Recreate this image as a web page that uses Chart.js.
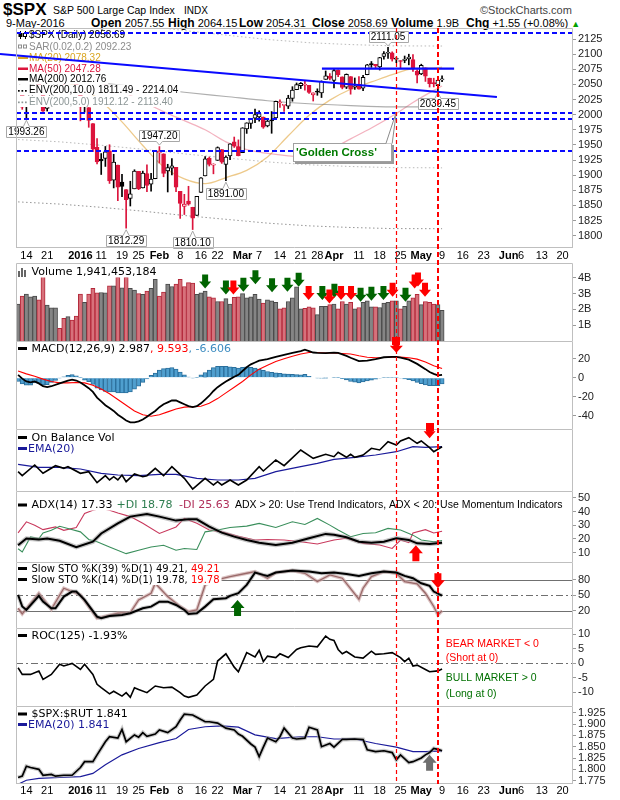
<!DOCTYPE html>
<html><head><meta charset="utf-8"><title>$SPX S&amp;P 500 Large Cap Index</title>
<script src="https://cdn.jsdelivr.net/npm/chart.js@4.4.1/dist/chart.umd.min.js"></script>
<style>
html,body{margin:0;padding:0;background:#fff}
#wrap{position:relative;width:620px;height:800px;overflow:hidden;background:#fff}
canvas{position:absolute;left:0}
.t{position:absolute;white-space:nowrap;line-height:1;color:#000;font-family:"Liberation Sans",Arial,sans-serif}
.t b{font-size:12px}
</style></head><body><div id="wrap">
<div class="t" style="left:3px;top:1px;font-size:17px;font-weight:bold">$SPX</div>
<div class="t" style="left:53px;top:5px;font-size:10.5px">S&amp;P 500 Large Cap Index</div>
<div class="t" style="left:184px;top:6px;font-size:10px">INDX</div>
<div class="t" style="left:480px;top:5px;font-size:11px;color:#444">&copy;StockCharts.com</div>
<div class="t" style="left:6px;top:18px;font-size:11px">9-May-2016</div>
<div class="t" style="left:91px;top:17px;font-size:11px"><b>Open</b> 2057.55</div>
<div class="t" style="left:168px;top:17px;font-size:11px"><b>High</b> 2064.15</div>
<div class="t" style="left:239px;top:17px;font-size:11px"><b>Low</b> 2054.31</div>
<div class="t" style="left:312px;top:17px;font-size:11px"><b>Close</b> 2058.69</div>
<div class="t" style="left:391px;top:17px;font-size:11px"><b>Volume</b> 1.9B</div>
<div class="t" style="left:466px;top:17px;font-size:11px"><b>Chg</b> +1.55 (+0.08%) <span style="color:#00a000;font-size:9px">&#9650;</span></div>
<canvas id="cPrice"></canvas>
<canvas id="cVol"></canvas>
<canvas id="cMacd"></canvas>
<canvas id="cObv"></canvas>
<canvas id="cAdx"></canvas>
<canvas id="cSto"></canvas>
<canvas id="cRoc"></canvas>
<canvas id="cRatio"></canvas>
<canvas id="ov" style="top:0;pointer-events:none"></canvas>
</div>
<script>
// ================= DATA =================
// trading days: index 0 = 10-Dec-2015 ... 102 = 9-May-2016 ; axis runs to index 133 (22-Jun-2016)
const tickIdx  = [2,7,15,20,25,29,34,39,44,48,54,58,63,68,72,76,82,87,92,97,102,107,112,118,121,126,131];
const tickText = ['14','21','2016','11','19','25','Feb','8','16','22','Mar','7','14','21','28','Apr','11','18','25','May','9','16','23','Jun','6','13','20'];

const opens = [2047.9,2047.3,2013.4,2025.6,2046.5,2073.8,2040.8,2010.3,2023.2,2042.2,
2063.5,2057.8,2060.5,2077.3,2060.6,2038.2,2013.8,2011.7,1985.3,1946.0,
1926.1,1927.8,1940.3,1891.7,1916.7,1888.7,1876.2,1861.5,1877.4,1906.3,
1878.8,1902.5,1885.2,1894.0,1936.9,1935.3,1907.1,1911.7,1913.1,1873.3,
1848.5,1857.1,1847.0,1833.4,1871.4,1898.8,1927.6,1916.7,1924.4,1942.4,
1917.6,1931.9,1955.0,1947.1,1937.1,1976.6,1985.6,1994.0,1996.1,1996.1,
1981.4,1991.0,1994.7,2019.3,2015.3,2014.2,2026.9,2041.2,2047.9,2048.6,
2048.6,2032.5,2037.9,2035.8,2058.3,2063.8,2056.6,2073.2,2062.5,2045.6,
2063.0,2045.5,2050.2,2043.7,2065.9,2082.9,2083.1,2078.8,2096.1,2101.5,
2102.1,2091.5,2089.4,2089.8,2092.3,2090.9,2071.8,2067.2,2077.2,2060.3,
2052.9,2047.8,2057.55];
const highs = [2067.7,2047.3,2022.9,2053.9,2076.7,2076.4,2040.8,2022.9,2042.7,2064.7,
2067.4,2057.8,2081.6,2077.3,2062.5,2038.2,2021.9,2011.7,1985.3,1960.4,
1935.7,1947.4,1950.3,1934.5,1916.7,1901.4,1876.2,1889.9,1908.9,1906.3,
1906.7,1917.0,1903.0,1940.2,1947.2,1935.3,1918.0,1927.4,1913.1,1873.3,
1868.3,1881.6,1847.0,1864.8,1895.8,1930.7,1930.0,1918.8,1946.7,1942.4,
1932.1,1951.8,1963.0,1958.3,1978.4,1986.5,1993.7,2009.1,2006.1,1996.1,
1992.7,2005.1,2022.4,2024.6,2015.9,2032.0,2046.2,2052.4,2053.1,2056.6,
2048.6,2036.0,2042.7,2055.9,2072.2,2067.9,2075.1,2074.0,2062.5,2067.3,
2063.0,2060.6,2062.9,2065.1,2083.2,2087.8,2083.2,2094.7,2104.4,2111.05,
2103.8,2095.0,2089.4,2096.9,2099.9,2099.3,2073.9,2083.4,2077.2,2060.3,
2060.2,2057.7,2064.15];
const lows = [2045.7,2008.8,1993.26,2025.6,2042.4,2041.7,2005.3,2005.9,2020.5,2042.2,
2058.7,2044.2,2060.5,2062.0,2043.6,1989.7,2004.2,1979.1,1938.8,1918.5,
1901.1,1914.4,1886.3,1878.9,1857.8,1864.6,1812.29,1849.0,1877.4,1876.0,
1878.8,1872.7,1873.7,1894.0,1920.0,1897.3,1872.2,1900.5,1872.7,1828.5,
1834.9,1850.3,1810.1,1833.4,1871.4,1898.8,1915.1,1902.2,1924.4,1919.4,
1891.0,1925.4,1945.8,1931.8,1937.1,1969.0,1977.4,1986.8,1989.4,1977.4,
1979.8,1969.2,1994.7,2012.1,2005.2,2010.0,2022.2,2041.2,2043.1,2040.6,
2034.9,2022.5,2032.0,2028.3,2058.3,2057.5,2044.0,2062.6,2042.6,2043.1,
2033.8,2041.7,2041.9,2039.7,2065.9,2078.1,2076.3,2073.7,2091.7,2093.1,
2088.5,2085.8,2077.5,2085.8,2082.3,2071.6,2052.3,2066.1,2054.9,2045.6,
2045.8,2039.45,2054.31];
const closes = [2052.2,2012.4,2021.9,2043.4,2073.1,2041.9,2005.6,2021.2,2039.0,2064.3,
2061.0,2056.5,2078.4,2063.4,2043.9,2012.7,2016.7,1990.3,1943.1,1922.0,
1923.7,1938.7,1890.3,1921.8,1880.3,1881.3,1859.3,1869.0,1906.9,1877.1,
1903.6,1883.0,1893.4,1940.2,1939.4,1903.0,1912.5,1915.5,1880.1,1853.4,
1852.2,1851.9,1829.1,1864.8,1895.6,1926.8,1917.83,1917.78,1945.5,1921.3,
1929.8,1951.7,1948.1,1932.2,1978.4,1986.5,1993.4,2000.0,2001.8,1979.3,
1989.3,1989.6,2022.2,2019.6,2015.9,2027.2,2040.6,2049.6,2051.6,2049.8,
2036.7,2035.9,2037.1,2055.0,2064.0,2059.7,2072.8,2066.1,2045.2,2066.7,
2041.9,2047.6,2042.0,2061.7,2082.4,2082.8,2080.7,2094.3,2100.8,2102.4,
2091.5,2091.6,2087.8,2091.7,2095.2,2075.8,2065.3,2081.4,2063.4,2051.1,
2050.6,2057.1,2058.69];
const prevClose0 = 2047.62;

const volumes = [2.34,2.85,2.97,2.80,2.85,2.60,4.13,2.28,2.10,2.10,
0.80,1.43,1.54,1.33,1.58,2.97,2.45,2.97,3.33,3.05,
3.07,3.05,3.50,3.50,4.05,3.37,4.05,3.33,3.22,3.00,
2.95,3.16,3.33,3.90,2.85,3.10,3.60,3.45,3.60,3.90,
3.45,3.70,3.67,2.95,3.05,3.16,2.80,2.73,2.50,2.50,
2.68,2.34,2.76,2.80,3.00,2.73,2.80,2.95,2.66,2.40,
2.60,2.55,2.45,2.03,2.10,2.50,2.73,3.43,2.03,2.07,
2.17,2.10,1.67,2.20,2.20,2.30,2.34,2.03,2.50,2.34,
2.45,2.03,2.12,2.45,2.55,2.17,2.17,2.12,2.40,2.45,
2.55,2.55,2.03,2.20,2.55,2.73,2.95,2.30,2.50,2.45,
2.34,2.30,1.94];

const ma20Pts = [[0,2073],[5,2063],[10,2055],[15,2045],[20,2022],[25,1988],[30,1949],[35,1914],[40,1894],[45,1886],[50,1896],[55,1908],[60,1930],[65,1965],[70,1999],[75,2024],[80,2042],[85,2054],[90,2066],[95,2076],[100,2077],[102,2078.32]];
const ma50Pts = [[0,2060],[10,2062],[20,2052],[30,2022],[35,2005],[40,1990],[45,1975],[50,1955],[55,1942],[60,1936],[65,1932],[70,1930],[75,1942],[80,1960],[85,1978],[91,2002],[95,2020],[100,2040],[102,2047.28]];
const ma200Pts = [[0,2062],[10,2058],[20,2052],[30,2045],[40,2037],[50,2030],[60,2023],[70,2018],[80,2015],[90,2013],[102,2012.76]];
const env10LoPts = [[0,1855.8],[10,1852.2],[20,1846.8],[30,1840.5],[40,1833.3],[50,1827],[60,1820.7],[70,1816.2],[80,1813.5],[90,1811.7],[102,1811.49]];
const env5LoPts = [[0,1958.9],[10,1955.1],[20,1949.4],[30,1942.8],[40,1935.2],[50,1928.5],[60,1921.9],[70,1917.1],[80,1914.3],[90,1912.4],[102,1912.12]];
const env5HiPts = [[0,2165.1],[10,2160.9],[20,2154.6],[30,2147.3],[40,2138.9],[50,2131.5],[60,2124.2],[70,2118.9],[80,2115.8],[90,2113.7],[102,2113.40]];

const macdPts = [[0,3],[1,-1],[2,-4],[3,-5],[4,-4],[5,-6],[6,-9],[7,-10],[8,-9],[10,-6],[12,-3],[13,-2],[14,-3],[15,-5],[16,-8],[17,-11],[18,-15],[19,-21],[20,-25],[21,-29],[22,-32],[23,-35],[24,-39],[25,-42],[26,-45],[27,-47],[28,-47],[29,-46],[30,-44],[31,-41],[32,-38],[33,-35],[34,-31],[35,-28],[36,-26],[37,-24],[38,-24],[39,-26],[40,-28],[41,-30],[42,-31],[43,-30],[44,-27],[45,-23],[46,-19],[47,-14],[48,-10],[49,-7],[50,-4],[51,-1.5],[52,1],[53,3],[54,7],[55,11],[56,14],[57,16],[58,18],[60,19.5],[62,22],[64,24],[66,26],[68,28],[69,29.5],[70,28],[71,26.5],[72,26],[74,25.8],[76,26.3],[77,26],[78,24.5],[79,23],[80,21],[82,17.5],[84,18],[86,19.5],[88,21.5],[90,22],[91,22],[92,21],[94,19],[96,14.5],[98,9],[99,6],[100,4],[101,2.5],[102,2.987]];
const signalPts = [[0,7],[2,4],[4,1.5],[6,-1.5],[8,-4],[10,-5.5],[12,-5.5],[14,-5],[16,-5.5],[18,-8],[20,-12],[22,-17],[24,-23],[26,-29],[28,-35],[30,-39],[32,-40.5],[34,-39],[36,-36],[38,-33],[40,-31],[42,-30.5],[44,-30],[46,-27],[48,-22],[50,-16],[52,-10],[54,-4],[56,3],[58,9],[60,13],[62,17],[64,20],[66,22.5],[68,25],[70,26.5],[72,26.5],[74,26],[76,26],[78,25.5],[80,25],[82,23],[84,21.5],[86,21],[88,21.2],[90,21.6],[92,21.6],[94,21],[96,19.5],[98,16.5],[100,12.5],[102,9.593]];
const macdHist = [-4,-6.5,-8,-7.75,-5.5,-6,-7.5,-7.25,-5,-2.75,
-0.5,1,2.5,3.25,2,0.25,-2.5,-4.25,-7,-11,
-13,-14.5,-15,-15,-16,-16,-16,-15,-12,-9,
-5,-1.25,2.5,4.75,8,9.5,10,10.5,9,6,
3,0.75,-0.5,0.25,3,5.5,8,10.5,12,12,
12,11.5,11,10,11,11.5,11,10,9,7.75,
6.5,5.75,5,4.5,4,3.75,3.5,3.25,3,3.5,
1.5,0,-0.5,-0.35,-0.2,0,0.3,0.25,-1,-2.25,
-4,-4.75,-5.5,-4.5,-3.5,-2.5,-1.5,-0.6,0.3,0.35,
0.4,0.4,-0.6,-1.3,-2,-3.5,-5,-6.25,-7.5,-8.5,
-8.5,-8.5,-6.606];

const obvPts = [[0,19.3],[1,15.3],[4,26],[6,17.7],[9,25.3],[11,22.7],[12,24.3],[15,17.7],[17,19.3],[19,8.3],[21,15.3],[22,11],[23,14.3],[24,11],[25,16],[26,9.3],[28,17],[30,14.3],[31,15.3],[33,22.7],[35,15.3],[37,24.3],[40,12.7],[42,2],[45,12.7],[47,6],[48,9.3],[49,6],[51,11],[53,6],[55,11],[58,24.3],[59,20],[62,31],[64,25.3],[68,41],[71,32.7],[74,36.7],[76,34.3],[77,38.7],[79,33.7],[80,36.7],[81,33.7],[83,36],[85,42.7],[87,41],[89,49.3],[91,46],[92,50],[94,53.3],[96,47.7],[97,50],[99,43.3],[100,39.3],[102,44.3]];
const obvEmaPts = [[0,26.7],[5,23.7],[10,23.7],[15,22],[20,17.7],[24,16],[29,15.3],[34,16.7],[38,16.7],[43,12.7],[48,11],[53,11],[57,12.7],[62,19.3],[68,24.3],[72,27.7],[76,31.7],[81,33.7],[86,36],[91,39.3],[95,44.3],[98,43.7],[102,44.3]];

const adxPts = [[0,15.4],[2,20.3],[5,19.6],[7,20.3],[10,18.7],[14,14],[18,18],[20,24],[24,31.4],[27,36.3],[31,38.2],[34,36.3],[38,33.4],[41,34.3],[43,34.3],[46,29],[49,24.6],[52,21.7],[55,19.2],[58,17.3],[62,15.6],[66,17.3],[70,20.5],[74,23.7],[76,23],[79,21.2],[82,18],[85,17.3],[88,18],[91,20.5],[94,19.3],[96,16.8],[99,16.4],[102,17.33]];
const pdiPts = [[0,12.9],[1,10.5],[3,21.5],[5,20.3],[6,24.4],[8,26.3],[10,29.3],[12,27.6],[15,25.2],[17,19.6],[19,18],[22,14.2],[26,9.3],[29,11.8],[32,14.2],[35,15.4],[38,11.8],[40,13],[43,12.3],[45,25.2],[48,26.5],[51,28.4],[55,29.4],[58,31.4],[62,28.4],[66,32.6],[69,30.6],[72,35],[75,30.1],[77,26.5],[80,21.6],[83,24],[86,24.5],[89,27.7],[92,26.5],[95,22.8],[97,19.2],[100,18],[102,18.78]];
const mdiPts = [[0,24.4],[2,32.5],[4,30],[6,26.8],[9,28.8],[11,26.3],[14,28.3],[16,38.6],[18,41],[20,42.3],[22,41],[24,39],[27,36.3],[30,31.4],[34,24],[38,28.8],[40,35],[43,31.4],[46,26.5],[49,25.2],[53,22],[57,19.2],[60,19.6],[64,19.2],[68,18],[72,16.3],[76,19.2],[79,20.5],[83,16.8],[87,15.6],[90,13.1],[92,19.2],[94,17.3],[95,24.4],[98,26.8],[100,24.4],[102,25.63]];

const sto39Pts = [[0,50.6],[1,28],[2,21.3],[5,48.7],[6,37.5],[8,24.6],[9,24.6],[11,47.4],[13,57.2],[14,57.2],[16,40.9],[19,8.2],[20,5],[22,9.5],[25,11.5],[27,14.8],[30,24.6],[32,27.8],[34,37.5],[36,37.5],[38,31],[40,21.3],[41,13.5],[43,14.8],[45,27.8],[47,42.2],[50,44.2],[51,48.7],[53,54],[55,70.2],[57,94.3],[59,89.8],[60,87.8],[62,94.3],[66,98.2],[70,96.3],[73,93.1],[76,94.3],[79,91.7],[82,87.8],[85,93.1],[88,96.3],[91,94.3],[93,87.8],[95,83.3],[97,73.5],[99,68.3],[100,57.2],[102,49.21]];
const sto14Pts = [[0,24.6],[1,13.5],[5,54],[8,22.6],[11,63.7],[15,50.6],[19,5],[24,14.8],[27,16],[29,40.9],[32,54],[33,73.5],[36,47.4],[39,27.8],[41,18],[43,21.3],[45,70.2],[47,78.7],[51,86.5],[55,93],[57,96.3],[60,83.3],[62,94.3],[66,98.2],[69,93],[72,76.8],[75,89.8],[78,83.3],[82,42.2],[83,63.7],[85,86.5],[88,96.3],[91,93],[93,76.8],[96,72.2],[98,54],[100,28],[101,11.5],[102,19.78]];

const rocPts = [[0,-1.5],[1,-3.8],[3,-3.8],[5,-2.6],[6,-5.5],[8,-3.8],[10,-0.3],[11,-0.9],[13,0],[15,-2.1],[16,-0.3],[18,-3.8],[19,-7.2],[20,-8.4],[22,-10.5],[23,-9.6],[25,-11.3],[26,-10.1],[27,-11.7],[28,-8.4],[29,-9],[31,-10.1],[33,-7.8],[35,-8.4],[37,-8.2],[39,-10.1],[40,-11.3],[41,-11.7],[43,-10.9],[45,-7.8],[47,-5.5],[48,0.8],[50,3.3],[52,-1.3],[53,-2.9],[55,3.7],[57,2.2],[58,4.5],[59,0.6],[60,2.5],[62,2],[63,3.3],[65,2],[67,4.8],[68,5.4],[70,6],[72,5.7],[74,9.4],[75,8.3],[76,7.9],[77,4.8],[78,3.3],[79,4.1],[81,2.2],[83,1.8],[85,4.2],[86,3.1],[88,3.3],[90,3.7],[92,2],[93,0.6],[94,1.8],[95,-0.9],[96,-0.6],[98,-2.1],[99,-2.9],[101,-2.6],[102,-1.93]];

const ratioPts = [[0,1.782],[1,1.785],[2,1.807],[3,1.804],[5,1.800],[6,1.787],[8,1.789],[9,1.785],[11,1.787],[13,1.787],[15,1.804],[16,1.817],[18,1.817],[19,1.832],[21,1.861],[22,1.872],[24,1.869],[25,1.888],[26,1.861],[28,1.876],[29,1.871],[30,1.881],[31,1.873],[33,1.878],[34,1.887],[36,1.881],[38,1.894],[39,1.909],[40,1.922],[42,1.920],[43,1.915],[45,1.905],[46,1.905],[48,1.902],[50,1.891],[52,1.887],[53,1.878],[54,1.873],[56,1.856],[57,1.849],[58,1.828],[59,1.849],[60,1.869],[62,1.861],[63,1.872],[64,1.891],[66,1.869],[67,1.867],[69,1.869],[70,1.893],[72,1.887],[73,1.850],[75,1.857],[76,1.849],[78,1.866],[79,1.866],[81,1.867],[83,1.866],[84,1.843],[86,1.839],[88,1.841],[90,1.837],[91,1.821],[92,1.832],[94,1.815],[95,1.817],[97,1.825],[98,1.832],[99,1.837],[100,1.846],[101,1.844],[102,1.841]];
const ratioEmaPts = [[0,1.767],[2,1.776],[5,1.780],[10,1.782],[15,1.784],[18,1.791],[21,1.810],[25,1.832],[29,1.846],[34,1.859],[38,1.868],[41,1.888],[45,1.894],[49,1.896],[53,1.893],[57,1.876],[62,1.868],[68,1.872],[72,1.872],[76,1.867],[81,1.867],[86,1.857],[91,1.849],[95,1.839],[98,1.839],[102,1.841]];

// axis tick values
const priceTicks = [1800,1825,1850,1875,1900,1925,1950,1975,2000,2025,2050,2075,2100,2125];
const volTicks = [1,2,3,4];
const macdTicks = [-40,-20,0,20];
const adxTicks = [10,20,30,40,50];
const stoTicks = [20,50,80];
const rocTicks = [-10,-5,0,5,10];
const ratioTicks = [1.775,1.800,1.825,1.850,1.875,1.900,1.925];

// annotations (data coordinates)
const hDashLevels = [2134.72,2002,1993.26,1940];
const trendLine = [[-4.35,2100.2],[115.2,2029.2]];
const resistLine = [[73.1,2075.9],[104.9,2075.9]];
const priceNotes = [[2,1993.26,'below'],[34,1947.20,'above'],[26,1812.29,'below'],[42,1810.10,'below'],[50,1891.00,'below'],[89,2111.05,'above'],[101,2039.45,'below']];
const gcBox = [66.2,90,1953,1921.6];
const gcTip = [91,2004.4];
const gcBase = [88.5,90];
const vLines = [91,101];
const volArrowsGreen = [[45,3.33],[50,2.95],[54.2,3.12],[57.1,3.59],[61.1,3.08],[64.8,3.12],[67.5,3.44],[73.2,2.6],[76.1,2.74],[82.4,2.49],[85,2.55],[87.9,2.6],[93.2,2.49]];
const volArrowsRed = [[51.8,2.95],[69.9,2.6],[74.9,2.38],[77.7,2.6],[80.1,2.6],[90.1,2.8],[95.4,3.33],[96.2,3.45],[97.9,2.8]];
const macdArrow = [91,26.3];
const obvArrow = [99,52.7];
const adxArrow = [95.7,15.4];
const stoArrowUp = [52.8,40.9];
const stoArrowDown = [101,63.8];
const ratioArrow = [99,1.832];
const rocNotes = [['BEAR MARKET < 0',6.5],['(Short at 0)',1.7],['BULL MARKET > 0',-5.2],['(Long at 0)',-10.7]];

// ================= STYLE / HELPERS =================
const FAM = '"Liberation Sans", Arial, sans-serif';
const F_PL = '10px ' + FAM;
const F_IL = '11px "DejaVu Sans", Verdana, sans-serif';
const F_STO = '10px "DejaVu Sans", Verdana, sans-serif';
const F_AR = '10.5px ' + FAM;
const RED = '#dc143c';
const P = a => a.map(([x,y]) => ({x,y}));
const L = (pts,color,w,extra) => Object.assign({type:'line',data:P(pts),borderColor:color,borderWidth:w,pointRadius:0,tension:0,fill:false,order:1},extra||{});

const candleCol = closes.map((c,i)=> c < (i ? closes[i-1] : prevClose0) ? RED : '#000');
const bodyFill = closes.map((c,i)=> c < opens[i] ? candleCol[i] : '#fff');
const volUp = closes.map((c,i)=> !(c < (i ? closes[i-1] : prevClose0)));

function xScale(show,h,pad){
  return {type:'linear',min:-0.5,max:133.5,offset:false,bounds:'data',display:show,
    grid:{display:false,drawTicks:false},border:{display:false},
    ticks:{autoSkip:false,maxRotation:0,minRotation:0,padding:pad,color:'#000',
      font:(c)=>({family:FAM,size:11,weight:/^[A-Z]|2016/.test(tickText[c.index]||'')?'bold':'normal'}),
      callback:(v,i)=>tickText[i]},
    afterBuildTicks:(s)=>{s.ticks=tickIdx.map(v=>({value:v}));},
    afterFit:(s)=>{s.height=h;s.paddingLeft=0;s.paddingRight=0;}};
}
function yScale(min,max,ticks,fmt){
  return {type:'linear',position:'right',min,max,bounds:'data',
    grid:{display:ticks.length>0,drawOnChartArea:false,drawTicks:true,tickLength:3,color:'#9a9a9a'},
    border:{display:false},
    ticks:{display:ticks.length>0,autoSkip:false,padding:2,color:'#222',font:{family:FAM,size:11},callback:(v)=>fmt(v)},
    afterBuildTicks:(s)=>{s.ticks=ticks.map(v=>({value:v}));},
    afterFit:(s)=>{s.width=47;s.paddingTop=0;s.paddingBottom=0;}};
}
const px=(ch,i)=>ch.scales.x.getPixelForValue(i);
const py=(ch,v)=>ch.scales.y.getPixelForValue(v);

function drawBorder(ch,ctx,bottom){
  const a=ch.chartArea;ctx.save();ctx.strokeStyle='#bfbfbf';ctx.lineWidth=1;ctx.setLineDash([]);
  ctx.beginPath();ctx.moveTo(a.left+0.5,a.bottom);ctx.lineTo(a.left+0.5,a.top+0.5);ctx.lineTo(a.right-0.5,a.top+0.5);ctx.lineTo(a.right-0.5,a.bottom);
  if(bottom){ctx.moveTo(a.left,a.bottom-0.5);ctx.lineTo(a.right,a.bottom-0.5);}
  ctx.stroke();ctx.restore();
}
function drawSwatch(ctx,sw,y){
  if(!sw)return;
  const [k,c]=sw;
  if(k==='bar'){ctx.fillStyle=c;ctx.fillRect(18,y-1.5,9,3);}
  else if(k==='line'){ctx.fillStyle=c;ctx.fillRect(18,y-1,10,2.5);}
  else if(k==='dots'){ctx.fillStyle=c;for(let j=0;j<3;j++)ctx.fillRect(18+j*3.5,y,1.7,1.7);}
  else if(k==='candle'){ctx.fillStyle='#000';ctx.fillRect(20,y-4,1,8);ctx.fillRect(18.5,y-2,4,4);ctx.fillRect(25,y-4,1,8);ctx.fillStyle='#fff';ctx.fillRect(24,y-1,3,3);ctx.strokeStyle='#000';ctx.lineWidth=1;ctx.strokeRect(23.5,y-1.5,3,3);}
  else if(k==='sar'){ctx.strokeStyle=c;ctx.lineWidth=1;ctx.strokeRect(18.5,y-1.5,3,3);ctx.strokeRect(23.5,y-1.5,3,3);}
  else if(k==='vol'){ctx.fillStyle='#666';ctx.fillRect(18,y-1,2,6);ctx.fillRect(21,y-4,2,9);ctx.fillRect(24,y-2,2,7);}
}
function drawLegend(ctx,rows,top,defFont,defX){
  rows.forEach(r=>{
    const y=r.y-top;let x=r.x!=null?r.x:defX;let end=x;
    r.parts.forEach(p=>{ctx.font=p.f||defFont;if(p.x!=null)end=p.x;end+=ctx.measureText(p.t).width;});
    ctx.fillStyle='#fff';ctx.fillRect(17,y-5.5,end-17+2,11);
    drawSwatch(ctx,r.sw,y);
    ctx.textBaseline='middle';ctx.textAlign='left';
    r.parts.forEach(p=>{ctx.font=p.f||defFont;if(p.x!=null)x=p.x;ctx.fillStyle=p.c;ctx.fillText(p.t,x,y+0.5);x+=ctx.measureText(p.t).width;});
  });
}
function arrow(ctx,x,yTip,dir,color,s){
  const [hw,hh,sw,sh]=s||[6,7,2.8,7];const d=dir==='down'?-1:1;
  ctx.beginPath();ctx.moveTo(x,yTip);ctx.lineTo(x-hw,yTip+d*hh);ctx.lineTo(x-sw,yTip+d*hh);ctx.lineTo(x-sw,yTip+d*(hh+sh));
  ctx.lineTo(x+sw,yTip+d*(hh+sh));ctx.lineTo(x+sw,yTip+d*hh);ctx.lineTo(x+hw,yTip+d*hh);ctx.closePath();ctx.fillStyle=color;ctx.fill();
}
function hLine(ch,ctx,v,color,dash){
  const a=ch.chartArea;const y=Math.round(py(ch,v))+0.5;ctx.save();ctx.strokeStyle=color;ctx.lineWidth=1;ctx.setLineDash(dash||[]);
  ctx.beginPath();ctx.moveTo(a.left,y);ctx.lineTo(a.right,y);ctx.stroke();ctx.restore();
}

function mk(id,top,h,datasets,y,x,pre,post){
  const cv=document.getElementById(id);
  cv.width=620;cv.height=h;cv.style.top=top+'px';cv.style.width='620px';cv.style.height=h+'px';
  return new Chart(cv,{type:'bar',data:{datasets},
    options:{responsive:false,animation:false,devicePixelRatio:1,events:[],
      layout:{padding:{left:16,right:0,top:0,bottom:0}},
      plugins:{legend:{display:false},tooltip:{enabled:false}},
      scales:{x,y}},
    plugins:[{id:'deco',
      beforeDatasetsDraw(c){if(pre){c.ctx.save();pre(c,c.ctx,top);c.ctx.restore();}},
      afterDatasetsDraw(c){c.ctx.save();post(c,c.ctx,top);c.ctx.restore();}}]});
}

// ================= LEGENDS =================
const priceLegend = [
 {y:35,sw:['candle'],parts:[{t:'$SPX (Daily) 2058.69',c:'#000'}]},
 {y:46.5,sw:['sar','#8c8c8c'],parts:[{t:'SAR(0.02,0.2) 2092.23',c:'#8c8c8c'}]},
 {y:57.5,sw:['line','#daa520'],parts:[{t:'MA(20) 2078.32',c:'#daa520'}]},
 {y:68.5,sw:['line','#dc143c'],parts:[{t:'MA(50) 2047.28',c:'#dc143c'}]},
 {y:79,sw:['line','#000'],parts:[{t:'MA(200) 2012.76',c:'#000'}]},
 {y:90,sw:['dots','#000'],parts:[{t:'ENV(200,10.0) 1811.49 - 2214.04',c:'#000'}]},
 {y:101.5,sw:['dots','#8c9696'],parts:[{t:'ENV(200,5.0) 1912.12 - 2113.40',c:'#8c9696'}]}];
const volLegend = [{y:272,sw:['vol'],parts:[{t:'Volume 1,941,453,184',c:'#000'}]}];
const macdLegend = [{y:348.5,sw:['bar','#000'],parts:[{t:'MACD(12,26,9) 2.987',c:'#000'},{t:', 9.593',c:'#ff0000'},{t:', -6.606',c:'#3c8cc0'}]}];
const obvLegend = [{y:437.5,sw:['bar','#000'],parts:[{t:'On Balance Vol',c:'#000'}]},{y:448.5,sw:['bar','#1a1a9a'],x:28,parts:[{t:'EMA(20)',c:'#1a1a9a'}]}];
const adxLegend = [{y:505,sw:['bar','#000'],parts:[{t:'ADX(14) 17.33',c:'#000'},{t:'+DI 18.78',c:'#2e7d4f',x:116.6},{t:'-DI 25.63',c:'#b0305a',x:179},{t:'ADX > 20: Use Trend Indicators, ADX < 20: Use Momentum Indicators',c:'#000',x:235,f:F_AR}]}];
const stoLegend = [{y:568.5,sw:['bar','#000'],parts:[{t:'Slow STO %K(39) %D(1) 49.21, ',c:'#000'},{t:'49.21',c:'#ff0000'}]},{y:579.5,sw:['bar','#000'],parts:[{t:'Slow STO %K(14) %D(1) 19.78, ',c:'#000'},{t:'19.78',c:'#ff0000'}]}];
const rocLegend = [{y:635.5,sw:['bar','#000'],parts:[{t:'ROC(125) -1.93%',c:'#000'}]}];
const ratioLegend = [{y:714,sw:['bar','#000'],parts:[{t:'$SPX:$RUT 1.841',c:'#000'}]},{y:724.5,sw:['bar','#1a1a9a'],x:28,parts:[{t:'EMA(20) 1.841',c:'#1a1a9a'}]}];

// ================= CHARTS =================
const charts = {};
const maOpt = {tension:0.35,cubicInterpolationMode:'monotone',order:3};
charts.price = mk('cPrice',28,235,[
  L(env10LoPts,'rgba(60,60,60,0.55)',1,{borderDash:[1.5,2.5],order:4}),
  L(env5LoPts,'rgba(130,130,130,0.55)',1,{borderDash:[1.5,2.5],order:4}),
  L(env5HiPts,'rgba(130,130,130,0.55)',1,{borderDash:[1.5,2.5],order:4}),
  L(ma200Pts,'rgba(120,120,120,0.6)',1.2,maOpt),
  L(ma50Pts,'rgba(220,20,60,0.33)',1.3,maOpt),
  L(ma20Pts,'rgba(225,165,60,0.6)',1.3,maOpt),
  {type:'bar',data:lows.map((l,i)=>({x:i,y:[l,highs[i]]})),backgroundColor:candleCol,borderWidth:0,barThickness:1,grouped:false,order:2},
  {type:'bar',data:opens.map((o,i)=>({x:i,y:[o,closes[i]]})),backgroundColor:bodyFill,borderColor:candleCol,borderWidth:1,borderSkipped:false,barThickness:4,minBarLength:1,grouped:false,order:0}
 ], yScale(1779.6,2143.2,priceTicks,v=>String(v)), xScale(true,15,1), null,
 (ch,ctx,top)=>{
   drawLegend(ctx,priceLegend,top,F_PL,29);
   const a=ch.chartArea;
   ctx.strokeStyle='#0a0aff';ctx.lineWidth=2;ctx.setLineDash([5,3]);
   hDashLevels.forEach(v=>{const y=Math.round(py(ch,v));ctx.beginPath();ctx.moveTo(a.left,y);ctx.lineTo(a.right,y);ctx.stroke();});
   ctx.setLineDash([]);ctx.lineWidth=2.2;
   [trendLine,resistLine].forEach(Ln=>{ctx.beginPath();ctx.moveTo(px(ch,Ln[0][0]),py(ch,Ln[0][1]));ctx.lineTo(px(ch,Ln[1][0]),py(ch,Ln[1][1]));ctx.stroke();});
   // golden cross callout
   const gx0=Math.round(px(ch,gcBox[0])),gx1=Math.round(px(ch,gcBox[1])),gy0=Math.round(py(ch,gcBox[2])),gy1=Math.round(py(ch,gcBox[3]));
   ctx.fillStyle='#9a9a9a';ctx.fillRect(gx0+2,gy0+2,gx1-gx0,gy1-gy0);
   ctx.fillStyle='#fff';ctx.fillRect(gx0,gy0,gx1-gx0,gy1-gy0);
   ctx.strokeStyle='#a0a0a0';ctx.lineWidth=1;ctx.strokeRect(gx0+0.5,gy0+0.5,gx1-gx0-1,gy1-gy0-1);
   const tx=px(ch,gcTip[0]),ty=py(ch,gcTip[1]);
   ctx.beginPath();ctx.moveTo(px(ch,gcBase[0]),gy0+0.5);ctx.lineTo(tx,ty);ctx.lineTo(px(ch,gcBase[1]),gy0+0.5);
   ctx.fillStyle='#fff';ctx.fill();ctx.strokeStyle='#8a8a8a';ctx.stroke();
   ctx.font='bold 11.5px '+FAM;ctx.fillStyle='#007a00';ctx.textBaseline='middle';ctx.textAlign='left';
   ctx.fillText("'Golden Cross'",gx0+3,(gy0+gy1)/2+0.5);
   // price callouts
   ctx.font=F_PL;
   priceNotes.forEach(([i,p,pos])=>{
     const t=p.toFixed(2);const x=px(ch,i),y=py(ch,p);const w=Math.round(ctx.measureText(t).width+4),h=11;
     const bx=Math.round(x-w/2)+0.5;const by=pos==='below'?Math.round(y+7)+0.5:Math.round(y-5.5-h)+0.5;
     ctx.beginPath();
     if(pos==='below'){ctx.moveTo(bx,by);ctx.lineTo(x-3,by);ctx.lineTo(x,y+1.5);ctx.lineTo(x+3,by);ctx.lineTo(bx+w,by);ctx.lineTo(bx+w,by+h);ctx.lineTo(bx,by+h);ctx.closePath();}
     else{ctx.moveTo(bx,by);ctx.lineTo(bx+w,by);ctx.lineTo(bx+w,by+h);ctx.lineTo(x+3,by+h);ctx.lineTo(x,y-1.5);ctx.lineTo(x-3,by+h);ctx.lineTo(bx,by+h);ctx.closePath();}
     ctx.fillStyle='#fff';ctx.fill();ctx.strokeStyle='#a8a8a8';ctx.lineWidth=1;ctx.stroke();
     ctx.fillStyle='#000';ctx.textAlign='center';ctx.textBaseline='middle';ctx.fillText(t,x,by+h/2+0.5);
   });
   drawBorder(ch,ctx,true);
 });

charts.vol = mk('cVol',263,78,[
  {type:'bar',data:volumes.map((v,i)=>({x:i,y:v})),backgroundColor:volUp.map(u=>u?'#858585':'#d7717b'),borderColor:volUp.map(u=>u?'#4a4a4a':'#b3283a'),borderWidth:1,barPercentage:1,categoryPercentage:1,grouped:false}
 ], yScale(0,4.94,volTicks,v=>v+'B'), xScale(false,0,0), null,
 (ch,ctx,top)=>{
   drawLegend(ctx,volLegend,top,F_IL,31.5);
   volArrowsGreen.forEach(([i,v])=>arrow(ctx,px(ch,i),py(ch,v),'down','#006400',[6,7,3,7]));
   volArrowsRed.forEach(([i,v])=>arrow(ctx,px(ch,i),py(ch,v),'down','#ff0000',[6,7,3,7]));
   drawBorder(ch,ctx,false);
 });

charts.macd = mk('cMacd',341,88,[
  {type:'bar',data:macdHist.map((v,i)=>({x:i,y:v})),backgroundColor:'#4f9fcf',borderColor:'#2a6f9c',borderWidth:1,barPercentage:1,categoryPercentage:1,order:5},
  L(signalPts,'#ff0000',1.1,{order:2}),
  L(macdPts,'#000',1.8,{order:1})
 ], yScale(-54,38.6,macdTicks,v=>String(v)), xScale(false,0,0), null,
 (ch,ctx,top)=>{
   drawLegend(ctx,macdLegend,top,F_IL,31.5);
   arrow(ctx,px(ch,macdArrow[0]),py(ch,macdArrow[1]),'down','#ff0000',[6.5,7,3,7]);
   drawBorder(ch,ctx,false);
 });

charts.obv = mk('cObv',429,62,[
  L(obvEmaPts,'#1a1a9a',1.2,{order:2}),
  L(obvPts,'#000',1.6,{order:1})
 ], yScale(0,62,[],v=>''), xScale(false,0,0), null,
 (ch,ctx,top)=>{
   drawLegend(ctx,obvLegend,top,F_IL,31.5);
   arrow(ctx,px(ch,obvArrow[0]),py(ch,obvArrow[1]),'down','#ff0000',[6,7,3,7]);
   drawBorder(ch,ctx,false);
 });

charts.adx = mk('cAdx',491,71,[
  L(pdiPts,'#3a8f5c',1.1,{order:3}),
  L(mdiPts,'#c8385c',1.1,{order:3}),
  L(adxPts,'rgba(150,150,150,0.55)',4.5,{order:2}),
  L(adxPts,'#000',2,{order:1})
 ], yScale(3.2,55,adxTicks,v=>String(v)), xScale(false,0,0), null,
 (ch,ctx,top)=>{
   drawLegend(ctx,adxLegend,top,F_IL,31.5);
   arrow(ctx,px(ch,adxArrow[0]),py(ch,adxArrow[1]),'up','#ff0000',[7,8,3.5,8]);
   drawBorder(ch,ctx,false);
 });

charts.sto = mk('cSto',562,66,[
  L(sto14Pts,'rgba(205,170,170,0.7)',3.5,{order:4}),
  L(sto14Pts,'#9a6a6a',1.3,{order:3}),
  L(sto39Pts,'rgba(150,150,150,0.5)',4,{order:2}),
  L(sto39Pts,'#000',2,{order:1})
 ], yScale(-14,115,stoTicks,v=>String(v)), xScale(false,0,0),
 (ch,ctx)=>{hLine(ch,ctx,80,'#707070');hLine(ch,ctx,20,'#707070');hLine(ch,ctx,50,'#707070',[7,3,2,3]);},
 (ch,ctx,top)=>{
   drawLegend(ctx,stoLegend,top,F_STO,31.5);
   arrow(ctx,px(ch,stoArrowUp[0]),py(ch,stoArrowUp[1]),'up','#006400',[7,8,3.5,8]);
   arrow(ctx,px(ch,stoArrowDown[0]),py(ch,stoArrowDown[1]),'down','#ff0000',[7,8,3.5,7]);
   drawBorder(ch,ctx,false);
 });

charts.roc = mk('cRoc',628,78,[
  L(rocPts,'#000',1.6,{order:1})
 ], yScale(-14.7,12.2,rocTicks,v=>String(v)), xScale(false,0,0),
 (ch,ctx)=>{hLine(ch,ctx,0,'#707070',[7,3,2,3]);},
 (ch,ctx,top)=>{
   drawLegend(ctx,rocLegend,top,F_IL,31.5);
   ctx.font=F_AR;ctx.textAlign='left';ctx.textBaseline='middle';
   rocNotes.forEach(([t,v],k)=>{ctx.fillStyle=k<2?'#ff0000':'#007000';ctx.fillText(t,px(ch,102.9),py(ch,v));});
   drawBorder(ch,ctx,false);
 });

charts.ratio = mk('cRatio',706,94,[
  L(ratioEmaPts,'#1a1a9a',1.2,{order:3}),
  L(ratioPts,'rgba(160,160,160,0.55)',4,{order:2}),
  L(ratioPts,'#000',1.7,{order:1})
 ], yScale(1.7677,1.9398,ratioTicks,v=>v.toFixed(3)), xScale(true,16,0), null,
 (ch,ctx,top)=>{
   drawLegend(ctx,ratioLegend,top,F_IL,31.5);
   arrow(ctx,px(ch,ratioArrow[0]),py(ch,ratioArrow[1]),'up','#6e6e6e',[7,8,3.5,8]);
   drawBorder(ch,ctx,true);
 });

// ================= OVERLAY: event lines & markers =================
(function(){
  const ov=document.getElementById('ov');ov.width=620;ov.height=800;ov.style.width='620px';ov.style.height='800px';
  const c=ov.getContext('2d');const pc=charts.price;
  vLines.forEach((v,k)=>{
    const x=Math.round(pc.scales.x.getPixelForValue(v))+(k?0:0.5);
    c.strokeStyle='#ff0000';c.lineWidth=k?2:1.2;c.setLineDash(k?[5,3]:[4,3]);
    c.beginPath();c.moveTo(x,28);c.lineTo(x,784);c.stroke();
  });
  c.setLineDash([]);c.fillStyle='#ff0000';
  const sq=(ch,top,i,v)=>{const x=ch.scales.x.getPixelForValue(i),y=ch.scales.y.getPixelForValue(v)+top;c.fillRect(Math.round(x-4),Math.round(y-4),8,8);};
  sq(charts.vol,263,91,0);
  sq(charts.macd,341,99,-52);
})();
</script>
</body></html>
